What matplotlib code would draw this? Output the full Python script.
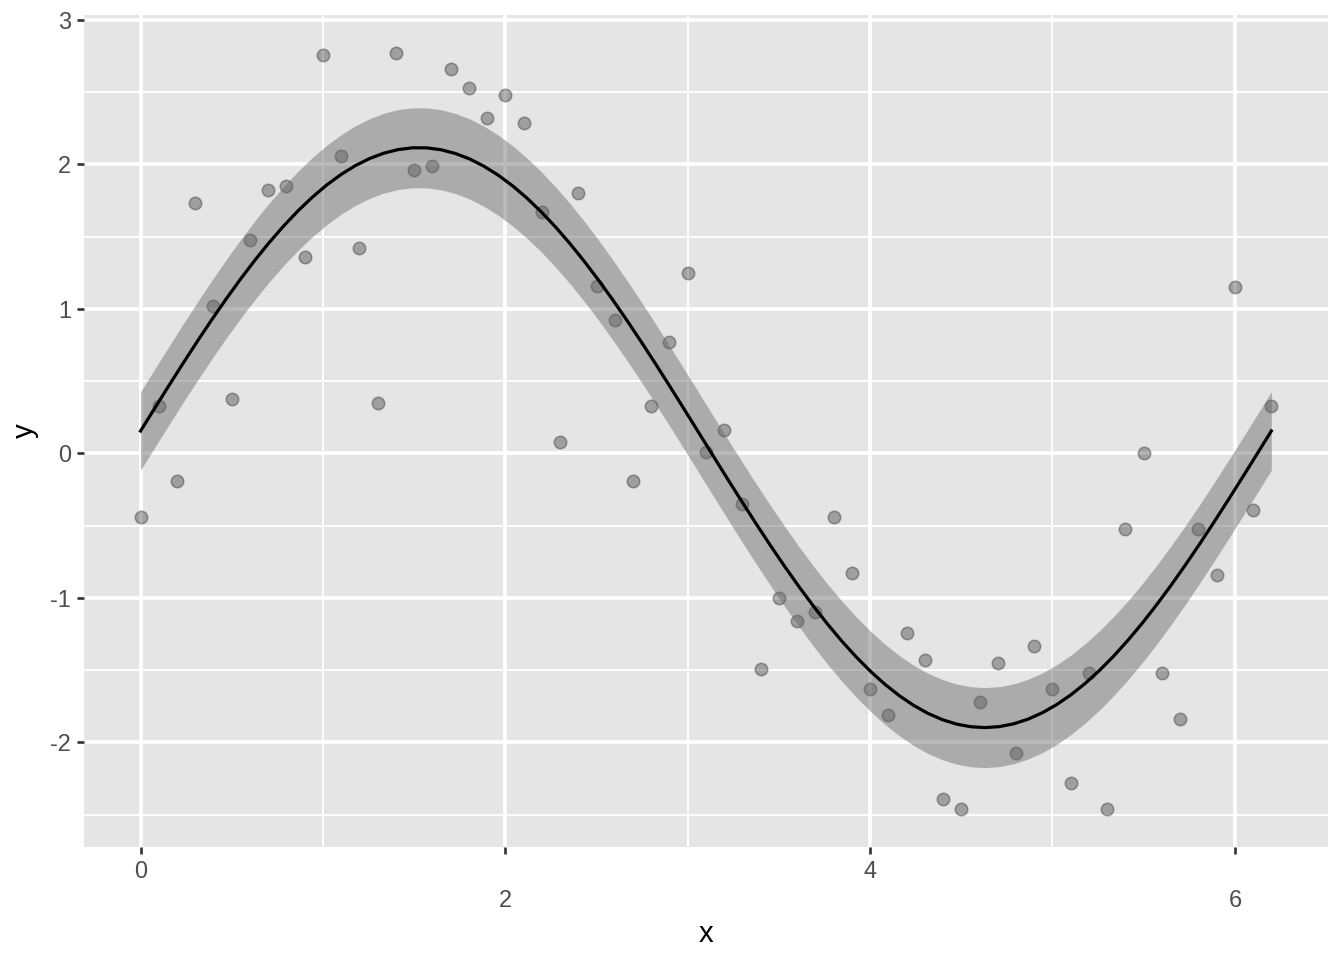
import numpy as np
import matplotlib
matplotlib.use("Agg")
import matplotlib.pyplot as plt

plt.rcParams['font.family'] = ['Liberation Sans', 'DejaVu Sans']

# data
x = np.round(np.arange(0, 6.21, 0.1), 1)
y = [-0.44, 0.33, -0.19, 1.73, 1.02, 0.38, 1.48, 1.82, 1.85, 1.36,
     2.76, 2.06, 1.42, 0.35, 2.77, 1.96, 1.99, 2.66, 2.53, 2.32,
     2.48, 2.29, 1.67, 0.08, 1.80, 1.16, 0.92, -0.19, 0.33, 0.77,
     1.25, 0.01, 0.16, -0.35, -1.49, -1.00, -1.16, -1.10, -0.44, -0.83,
     -1.63, -1.81, -1.24, -1.43, -2.39, -2.46, -1.72, -1.45, -2.07, -1.33,
     -1.63, -2.28, -1.52, -2.46, -0.52, 0.00, -1.52, -1.84, -0.52, -0.84,
     1.15, -0.39, 0.33]
y = np.array(y)

x_ticks = [0, 2, 4, 6]
y_ticks = [-2, -1, 0, 1, 2, 3]

# harmonic fit over the x range, with a 95% band
w = 2 * np.pi / (x.max() - x.min())
X = np.column_stack([np.ones_like(x), np.sin(w * x), np.cos(w * x)])
beta, *_ = np.linalg.lstsq(X, y, rcond=None)
resid = y - X @ beta
df = len(y) - X.shape[1]
sigma = np.sqrt(np.sum(resid ** 2) / df)
xg = np.linspace(x.min(), x.max(), 80)
Xg = np.column_stack([np.ones_like(xg), np.sin(w * xg), np.cos(w * xg)])
fit = Xg @ beta
cov = np.linalg.inv(X.T @ X)
se = sigma * np.sqrt(np.einsum('ij,jk,ik->i', Xg, cov, Xg))
tq = 2.0003  # t(0.975, 60)

fig = plt.figure(figsize=(7, 5), dpi=192)
ax = fig.add_axes([0.0625, 0.118, 0.9255, 0.866])
ax.set_facecolor('#E5E5E5')
for s in ax.spines.values():
    s.set_visible(False)

# points, band, line
ax.scatter(x, y, s=22, facecolor=(0, 0, 0, 0.3), edgecolor=(0, 0, 0, 0.3),
           linewidths=0.6, zorder=3)
ax.fill_between(xg, fit - tq * se, fit + tq * se, color='#666666', alpha=0.45,
                linewidth=0, zorder=4)
ax.plot(xg, fit, color='black', linewidth=1.2, zorder=5)

# limits with 5% expansion
xr = x.max() - x.min()
yr = y.max() - y.min()
ax.set_xlim(x.min() - 0.05 * xr, x.max() + 0.05 * xr)
ax.set_ylim(y.min() - 0.05 * yr, y.max() + 0.05 * yr)

ax.set_xticks(x_ticks)
ax.set_yticks(y_ticks)
ax.set_xticks([1, 3, 5], minor=True)
ax.set_yticks([-2.5, -1.5, -0.5, 0.5, 1.5, 2.5], minor=True)
ax.grid(which='major', color='white', linewidth=1.4)
ax.grid(which='minor', color='white', linewidth=0.7)
ax.set_axisbelow(True)

ax.tick_params(which='major', length=2.75, width=1.0, color='#333333',
               labelsize=8.8, labelcolor='#4D4D4D', pad=2.2)
ax.tick_params(which='minor', length=0)
ax.set_yticklabels([str(v) for v in y_ticks])
ax.set_xticklabels([str(v) for v in x_ticks])

# staggered x labels
for i, t in enumerate(ax.xaxis.get_major_ticks()):
    if i % 2 == 1:
        t.set_pad(2.2 + 10.9)

ax.set_xlabel('x', fontsize=11, labelpad=3)
ax.set_ylabel('y', fontsize=11, labelpad=4)

fig.savefig('out.png', dpi=192)
